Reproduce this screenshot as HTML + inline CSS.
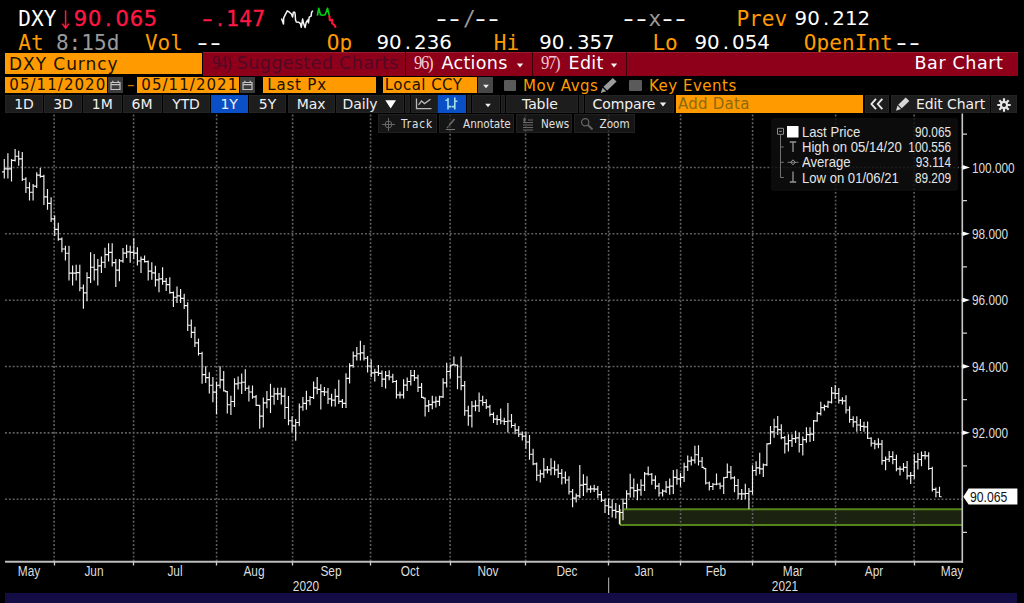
<!DOCTYPE html>
<html lang="en"><head><meta charset="utf-8"><title>DXY Curncy - Bar Chart</title>
<style>
*{box-sizing:border-box;margin:0;padding:0}
html,body{width:1024px;height:603px;background:#000;overflow:hidden}
body{position:relative;font-family:"DejaVu Sans","Liberation Sans",sans-serif;color:#fff}
.a{position:absolute;white-space:pre}
.m{font-family:"DejaVu Sans Mono","Liberation Mono",monospace;font-size:21.1px;line-height:24px;letter-spacing:0.02px}
.n{font-family:"DejaVu Sans","Liberation Sans",sans-serif;font-size:19.8px;line-height:24px}
.c{display:inline-block;text-align:center}
.d{transform:scaleX(1.45)}
.t3{top:51.7px;font-family:"DejaVu Sans","Liberation Sans",sans-serif;font-size:17.5px;line-height:23px;color:#fff;letter-spacing:0.3px}
.nn{font-family:"Liberation Serif",serif;font-size:18.5px;letter-spacing:-1.5px;color:#f4c8cf;margin-right:1.5px;display:inline-block;transform:scaleX(0.9);transform-origin:0 50%}
.tri{width:0;height:0;border-left:4px solid transparent;border-right:4px solid transparent;border-top:5px solid #f0f0f0}
.r4{top:76.7px;height:16.8px;font-size:15px;line-height:17.4px;padding-left:4.3px;letter-spacing:1.05px}
.r4t{top:76.5px;font-family:"DejaVu Sans","Liberation Sans",sans-serif;font-size:15px;line-height:18px;letter-spacing:0.5px}
.btn.t6{top:114.2px;height:19px;text-align:left;font-family:"DejaVu Sans Condensed","DejaVu Sans","Liberation Sans",sans-serif;font-size:11.6px;line-height:18.6px;letter-spacing:0;color:#e0e0e0;background:rgba(30,30,30,0.7);border-color:rgba(40,40,40,0.6)}
.o{color:#ff9a00}
.r{color:#ff1744}
.g{color:#9a9a9a}
.w{color:#fff}
.btn{position:absolute;background:#1d1d1d;border:1px solid #242424;border-radius:0;height:18.4px;top:94.9px;color:#f0f0f0;font-family:"DejaVu Sans","Liberation Sans",sans-serif;font-size:14px;line-height:16.6px;letter-spacing:-0.1px;text-align:center;white-space:pre}
.ob{position:absolute;background:#ff9a00;color:#1a1200;font-family:"DejaVu Sans","Liberation Sans",sans-serif;white-space:pre}
.yl{position:absolute;left:971.5px;font-family:"Liberation Sans","DejaVu Sans",sans-serif;font-size:13.8px;line-height:14px;color:#dcdcdc;transform:scaleX(0.855);transform-origin:0 50%;white-space:pre}
.xl{position:absolute;top:564.7px;font-family:"Liberation Sans","DejaVu Sans",sans-serif;font-size:13.8px;line-height:14px;color:#dcdcdc;white-space:pre;transform:translateX(-50%) scaleX(0.86)}
.lg{position:absolute;font-family:"Liberation Sans","DejaVu Sans",sans-serif;font-size:14.4px;line-height:15px;color:#e6e6e6;white-space:pre;transform:scaleX(0.91);transform-origin:0 50%}
.lv{position:absolute;font-family:"Liberation Sans","DejaVu Sans",sans-serif;font-size:14.4px;line-height:15px;color:#e6e6e6;white-space:pre;right:72.7px;transform:scaleX(0.82);transform-origin:100% 50%}
</style></head>
<body>
<svg id="chart" width="1024" height="603" viewBox="0 0 1024 603" style="position:absolute;left:0;top:0">
<rect x="620" y="509.3" width="342" height="15.7" fill="#1b220f"/>
<path d="M624 509.3H962M620 525H962" stroke="#55841a" stroke-width="2" fill="none"/>
<path d="M620 509V525" stroke="#c9d96a" stroke-width="1.2" fill="none"/>
<path d="M5 167.5H962M5 233.8H962M5 300.2H962M5 366.5H962M5 432.9H962M5 499.2H962M54.1 114.5V561M133.6 114.5V561M216.6 114.5V561M292.6 114.5V561M370.6 114.5V561M450.1 114.5V561M525.6 114.5V561M608.6 114.5V561M680.6 114.5V561M752.6 114.5V561M835.6 114.5V561M914.1 114.5V561" stroke="#606060" stroke-width="1.6" stroke-dasharray="1.9 1.97" fill="none"/>
<path d="M4.3 159.1V178.5M2.1 171.8H4.3M4.3 168.8H6.5M7.9 153.3V178.5M5.7 168.8H7.9M7.9 168.8H10.1M11.5 159.1V181.5M9.3 168.8H11.5M11.5 160.3H13.7M15.1 149.1V161.6M12.9 160.3H15.1M15.1 156.2H17.3M18.7 150.8V165.7M16.5 156.2H18.7M18.7 158.8H20.9M22.3 151.9V181.1M20.1 158.8H22.3M22.3 179.2H24.5M25.9 177.3V193.1M23.7 179.2H25.9M25.9 187.7H28.1M29.5 182.3V200.5M27.3 187.7H29.5M29.5 192.2H31.7M33.1 184.0V200.5M30.9 192.2H33.1M33.1 186.1H35.3M36.7 172.3V188.1M34.5 186.1H36.7M36.7 175.1H38.9M40.3 167.9V177.8M38.1 175.1H40.3M40.3 176.3H42.5M43.9 174.8V205.0M41.7 176.3H43.9M43.9 196.9H46.1M47.5 188.9V209.7M45.3 196.9H47.5M47.5 203.4H49.7M51.1 197.2V222.1M48.9 203.4H51.1M51.1 218.8H53.3M54.7 215.5V236.0M52.5 218.8H54.7M54.7 229.3H56.9M58.3 222.7V240.7M56.1 229.3H58.3M58.3 239.1H60.5M61.9 237.4V252.3M59.7 239.1H61.9M61.9 249.0H64.1M65.4 245.7V260.6M63.2 249.0H65.4M65.4 253.2H67.6M69.0 245.7V280.5M66.8 253.2H69.0M69.0 273.1H71.2M72.6 265.6V285.5M70.4 273.1H72.6M72.6 273.1H74.8M76.2 264.7V280.5M74.0 273.1H76.2M76.2 272.6H78.4M79.8 264.7V291.3M77.6 272.6H79.8M79.8 288.0H82.0M83.4 284.6V308.7M81.2 288.0H83.4M83.4 292.9H85.6M87.0 272.2V301.2M84.8 292.9H87.0M87.0 277.6H89.2M90.6 252.3V283.0M88.4 277.6H90.6M90.6 267.2H92.8M94.2 254.0V280.5M92.0 267.2H94.2M94.2 269.7H96.4M97.8 258.9V285.5M95.6 269.7H97.8M97.8 265.9H100.0M101.4 256.4V273.0M99.2 265.9H101.4M101.4 262.2H103.6M105.0 247.8V268.0M102.8 262.2H105.0M105.0 254.6H107.2M108.6 243.2V261.4M106.4 254.6H108.6M108.6 252.3H110.8M112.2 243.2V266.4M110.0 252.3H112.2M112.2 262.6H114.4M115.8 258.9V287.1M113.6 262.6H115.8M115.8 270.1H118.0M119.4 258.9V281.3M117.2 270.1H119.4M119.4 260.8H121.6M123.0 248.1V262.7M120.8 260.8H123.0M123.0 253.1H125.2M126.6 244.8V258.1M124.4 253.1H126.6M126.6 251.9H128.8M130.2 245.7V262.7M128.0 251.9H130.2M130.2 252.3H132.4M133.8 238.2V258.9M131.6 252.3H133.8M133.8 253.1H136.0M137.4 247.3V265.6M135.2 253.1H137.4M137.4 261.0H139.6M141.0 256.4V273.0M138.8 261.0H141.0M141.0 259.4H143.2M144.6 255.4V262.5M142.4 259.4H144.6M144.6 261.6H146.8M148.2 260.6V280.5M146.0 261.6H148.2M148.2 271.1H150.4M151.8 262.3V279.8M149.6 271.1H151.8M151.8 272.8H154.0M155.4 265.7V286.4M153.2 272.8H155.4M155.4 279.8H157.6M159.0 273.1V292.2M156.8 279.8H159.0M159.0 278.9H161.2M162.6 267.3V284.7M160.4 278.9H162.6M162.6 281.4H164.8M166.2 278.1V291.0M164.0 281.4H166.2M166.2 284.6H168.4M169.8 277.3V293.8M167.6 284.6H169.8M169.8 292.6H172.0M173.4 291.4V307.1M171.2 292.6H173.4M173.4 297.2H175.6M177.0 286.4V303.0M174.8 297.2H177.0M177.0 295.9H179.2M180.6 288.9V303.0M178.4 295.9H180.6M180.6 298.4H182.8M184.2 293.8V309.0M182.0 298.4H184.2M184.2 305.6H186.3M187.7 302.2V331.0M185.5 305.6H187.7M187.7 325.2H189.9M191.3 319.4V338.0M189.1 325.2H191.3M191.3 332.4H193.5M194.9 326.7V347.0M192.7 332.4H194.9M194.9 342.8H197.1M198.5 338.5V355.4M196.3 342.8H198.5M198.5 353.5H200.7M202.1 351.7V383.8M199.9 353.5H202.1M202.1 374.6H204.3M205.7 366.2V383.0M203.5 374.6H205.7M205.7 377.6H207.9M209.3 372.2V393.4M207.1 377.6H209.3M209.3 385.2H211.5M212.9 377.0V402.3M210.7 385.2H212.9M212.9 392.1H215.1M216.5 381.8V414.3M214.3 392.1H216.5M216.5 385.2H218.7M220.1 366.2V388.6M217.9 385.2H220.1M220.1 379.8H222.3M223.7 371.0V391.5M221.5 379.8H223.7M223.7 390.9H225.9M227.3 391.0V413.6M225.1 391.6H227.3M227.3 404.7H229.5M230.9 395.8V415.0M228.7 404.7H230.9M230.9 401.5H233.1M234.5 378.2V407.1M232.3 401.5H234.5M234.5 383.9H236.7M238.1 376.5V389.5M235.9 383.9H238.1M238.1 383.0H240.3M241.7 373.4V393.9M239.5 383.0H241.7M241.7 382.2H243.9M245.3 369.3V391.0M243.1 382.2H245.3M245.3 388.2H247.5M248.9 385.4V401.6M246.7 388.2H248.9M248.9 392.0H251.1M252.5 385.4V398.7M250.3 392.0H252.5M252.5 396.9H254.7M256.1 395.0V405.9M253.9 396.9H256.1M256.1 405.3H258.3M259.7 404.7V428.8M257.5 405.3H259.7M259.7 416.1H261.9M263.3 397.5V427.6M261.1 416.1H263.3M263.3 402.9H265.5M266.9 391.0V408.3M264.7 402.9H266.9M266.9 399.6H269.1M270.5 383.8V413.1M268.3 399.6H270.5M270.5 396.2H272.7M274.1 387.8V404.7M271.9 396.2H274.1M274.1 393.9H276.3M277.7 387.8V399.9M275.5 393.9H277.7M277.7 393.9H279.9M281.3 387.5V404.5M279.1 393.9H281.3M281.3 396.1H283.5M284.9 387.8V419.0M282.7 396.1H284.9M284.9 407.5H287.1M288.5 396.0V425.2M286.3 407.5H288.5M288.5 420.7H290.7M292.1 416.2V432.6M289.9 420.7H292.1M292.1 425.8H294.3M295.7 418.9V440.8M293.5 425.8H295.7M295.7 422.5H297.9M299.3 403.4V426.2M297.1 422.5H299.3M299.3 407.0H301.5M302.9 397.0V410.7M300.7 407.0H302.9M302.9 403.4H305.1M306.4 390.7V409.8M304.2 403.4H306.4M306.4 400.7H308.6M310.0 396.1V405.3M307.8 400.7H310.0M310.0 397.5H312.2M313.6 381.5V398.9M311.4 397.5H313.6M313.6 387.9H315.8M317.2 377.0V394.3M315.0 387.9H317.2M317.2 389.3H319.4M320.8 384.3V409.5M318.6 389.3H320.8M320.8 391.6H323.0M324.4 387.0V396.1M322.2 391.6H324.4M324.4 392.0H326.6M328.0 387.9V404.0M325.8 392.0H328.0M328.0 398.9H330.2M331.6 393.8V406.5M329.4 398.9H331.6M331.6 400.1H333.8M335.2 388.8V406.5M333.0 400.1H335.2M335.2 396.4H337.4M338.8 379.7V404.0M336.6 396.4H338.8M338.8 401.4H341.0M342.4 398.9V408.0M340.2 401.4H342.4M342.4 403.4H344.6M346.0 373.3V408.0M343.8 403.4H346.0M346.0 378.4H348.2M349.6 363.3V383.4M347.4 378.4H349.6M349.6 365.6H351.8M353.2 351.4V367.8M351.0 365.6H353.2M353.2 355.9H355.4M356.8 346.9V360.5M354.6 355.9H356.8M356.8 353.7H359.0M360.4 340.8V360.5M358.2 353.7H360.4M360.4 352.8H362.6M364.0 345.0V360.5M361.8 352.8H364.0M364.0 358.2H366.2M367.6 356.0V372.4M365.4 358.2H367.6M367.6 366.0H369.8M371.2 359.6V377.0M369.0 366.0H371.2M371.2 372.9H373.4M374.8 368.8V381.5M372.6 372.9H374.8M374.8 372.4H377.0M378.4 365.1V376.0M376.2 372.4H378.4M378.4 373.3H380.6M382.0 370.6V387.0M379.8 373.3H382.0M382.0 379.1H384.2M385.6 371.1V388.6M383.4 379.1H385.6M385.6 375.6H387.8M389.2 370.3V380.2M387.0 375.6H389.2M389.2 377.0H391.4M392.8 373.8V382.9M390.6 377.0H392.8M392.8 381.5H395.0M396.4 380.1V398.4M394.2 381.5H396.4M396.4 394.9H398.6M400.0 391.5V398.4M397.8 394.9H400.0M400.0 394.9H402.2M403.6 379.2V398.4M401.4 394.9H403.6M403.6 385.1H405.8M407.2 377.4V391.1M405.0 385.1H407.2M407.2 381.5H409.4M410.8 370.1V385.6M408.6 381.5H410.8M410.8 375.6H413.0M414.4 370.1V381.0M412.2 375.6H414.4M414.4 377.9H416.6M418.0 374.7V392.0M415.8 377.9H418.0M418.0 387.4H420.2M421.6 382.9V398.0M419.4 387.4H421.6M421.6 397.4H423.8M425.1 397.5V416.6M422.9 398.1H425.1M425.1 405.9H427.3M428.7 399.9V412.0M426.5 405.9H428.7M428.7 404.6H430.9M432.3 395.7V409.3M430.1 404.6H432.3M432.3 402.1H434.5M435.9 396.6V407.5M433.7 402.1H435.9M435.9 401.3H438.1M439.5 395.7V406.0M437.3 401.3H439.5M439.5 396.9H441.7M443.1 378.3V398.0M440.9 396.9H443.1M443.1 382.9H445.3M446.7 362.8V387.4M444.5 382.9H446.7M446.7 371.5H448.9M450.3 364.6V378.3M448.1 371.5H450.3M450.3 365.2H452.5M453.9 356.4V365.5M451.7 364.9H453.9M453.9 364.9H456.1M457.5 364.6V389.3M455.3 365.2H457.5M457.5 377.0H459.7M461.1 356.4V390.2M458.9 377.0H461.1M461.1 385.6H463.3M464.7 381.0V415.7M462.5 385.6H464.7M464.7 410.7H466.9M468.3 405.7V425.8M466.1 410.7H468.3M468.3 415.8H470.5M471.9 401.1V427.6M469.7 415.8H471.9M471.9 406.1H474.1M475.5 400.2V411.2M473.3 406.1H475.5M475.5 405.7H477.7M479.1 392.6V412.1M476.9 405.7H479.1M479.1 400.7H481.3M482.7 395.7V405.7M480.5 400.7H482.7M482.7 402.5H484.9M486.3 399.3V409.0M484.1 402.5H486.3M486.3 406.9H488.5M489.9 404.8V416.4M487.7 406.9H489.9M489.9 414.3H492.1M493.5 412.2V423.1M491.3 414.3H493.5M493.5 419.1H495.7M497.1 415.0V425.1M494.9 419.1H497.1M497.1 419.6H499.3M500.7 408.6V424.2M498.5 419.6H500.7M500.7 421.0H502.9M504.3 417.8V425.1M502.1 421.0H504.3M504.3 421.5H506.5M507.9 403.0V432.4M505.7 421.5H507.9M507.9 421.0H510.1M511.5 414.1V427.8M509.3 421.0H511.5M511.5 425.5H513.7M515.1 423.2V434.2M512.9 425.5H515.1M515.1 430.1H517.3M518.7 426.0V437.0M516.5 430.1H518.7M518.7 434.2H520.9M522.3 431.5V440.6M520.1 434.2H522.3M522.3 436.1H524.5M525.9 431.5V448.8M523.7 436.1H525.9M525.9 442.0H528.1M529.5 435.1V459.7M527.3 442.0H529.5M529.5 454.2H531.7M533.1 448.8V465.2M530.9 454.2H533.1M533.1 463.9H535.3M536.7 462.5V480.7M534.5 463.9H536.7M536.7 475.2H538.9M540.3 469.8V482.6M538.1 475.2H540.3M540.3 473.9H542.5M543.8 457.9V478.0M541.6 473.9H543.8M543.8 469.8H546.0M547.4 466.1V473.4M545.2 469.8H547.4M547.4 469.8H549.6M551.0 458.3V475.3M548.8 469.8H551.0M551.0 468.0H553.2M554.6 460.7V475.3M552.4 468.0H554.6M554.6 469.8H556.8M558.2 464.3V478.0M556.0 469.8H558.2M558.2 473.4H560.4M561.8 468.9V484.4M559.6 473.4H561.8M561.8 477.7H564.0M565.4 471.6V483.8M563.2 477.7H565.4M565.4 480.0H567.6M569.0 476.2V494.4M566.8 480.0H569.0M569.0 491.7H571.2M572.6 489.0V507.2M570.4 491.7H572.6M572.6 498.1H574.8M576.2 493.5V502.6M574.0 498.1H576.2M576.2 495.8H578.4M579.8 464.9V498.1M577.6 495.8H579.8M579.8 485.1H582.0M583.4 474.3V495.9M581.2 485.1H583.4M583.4 484.4H585.6M587.0 476.2V492.6M584.8 484.4H587.0M587.0 489.1H589.2M590.6 485.5V492.8M588.4 489.1H590.6M590.6 488.8H592.8M594.2 484.8V492.1M592.0 488.8H594.2M594.2 489.1H596.4M597.8 486.0V498.2M595.6 489.1H597.8M597.8 494.6H600.0M601.4 491.1V502.1M599.2 494.6H601.4M601.4 500.2H603.6M605.0 498.4V513.0M602.8 500.2H605.0M605.0 505.7H607.2M608.6 498.4V514.9M606.4 505.7H608.6M608.6 507.1H610.8M612.2 499.3V517.6M610.0 507.1H612.2M612.2 510.3H614.4M615.8 503.0V518.5M613.6 510.3H615.8M615.8 511.6H618.0M619.4 504.8V524.0M617.2 511.6H619.4M619.4 512.5H621.6M623.0 498.4V520.3M620.8 512.5H623.0M623.0 503.4H625.2M626.6 490.2V508.5M624.4 503.4H626.6M626.6 493.9H628.8M630.2 473.8V497.5M628.0 493.9H630.2M630.2 487.9H632.4M633.8 478.4V497.5M631.6 487.9H633.8M633.8 490.6H636.0M637.4 483.8V500.3M635.2 490.6H637.4M637.4 489.8H639.6M641.0 479.3V495.7M638.8 489.8H641.0M641.0 485.2H643.2M644.6 472.0V491.1M642.4 485.2H644.6M644.6 473.8H646.8M648.2 466.5V475.6M646.0 473.8H648.2M648.2 474.2H650.4M651.8 472.9V484.7M649.6 474.2H651.8M651.8 480.1H654.0M655.4 475.6V489.3M653.2 480.1H655.4M655.4 486.1H657.6M659.0 482.9V496.6M656.8 486.1H659.0M659.0 493.0H661.2M662.6 489.3V496.6M660.4 493.0H662.6M662.6 491.1H664.8M666.1 481.1V493.0M663.9 491.1H666.1M666.1 487.1H668.3M669.7 478.4V494.8M667.5 487.1H669.7M669.7 486.1H671.9M673.3 470.1V493.9M671.1 486.1H673.3M673.3 477.4H675.5M676.9 469.2V484.7M674.7 477.4H676.9M676.9 478.8H679.1M680.5 472.9V486.6M678.3 478.8H680.5M680.5 477.4H682.7M684.1 462.8V482.0M681.9 477.4H684.1M684.1 466.9H686.3M687.7 455.5V471.0M685.5 466.9H687.7M687.7 461.1H689.9M691.3 456.5V465.6M689.1 461.1H691.3M691.3 460.1H693.5M694.9 445.8V463.6M692.7 460.1H694.9M694.9 454.7H697.1M698.5 445.3V465.4M696.3 454.7H698.5M698.5 461.2H700.7M702.1 457.0V468.0M699.9 461.2H702.1M702.1 467.4H704.3M705.7 468.0V484.4M703.5 468.6H705.7M705.7 483.0H707.9M709.3 481.6V490.4M707.1 483.0H709.3M709.3 486.5H711.5M712.9 483.1V489.9M710.7 486.5H712.9M712.9 484.2H715.1M716.5 473.4V485.3M714.3 484.2H716.5M716.5 484.0H718.7M720.1 482.6V489.3M717.9 484.0H720.1M720.1 486.0H722.3M723.7 477.1V494.1M721.5 486.0H723.7M723.7 477.7H725.9M727.3 463.4V478.0M725.1 477.4H727.3M727.3 472.1H729.5M730.9 466.1V479.5M728.7 472.1H730.9M730.9 477.9H733.1M734.5 476.2V492.2M732.3 477.9H734.5M734.5 485.5H736.7M738.1 478.9V499.0M735.9 485.5H738.1M738.1 493.9H740.3M741.7 488.9V499.9M739.5 493.9H741.7M741.7 493.9H743.9M745.3 483.8V499.0M743.1 493.9H745.3M745.3 493.5H747.5M748.9 488.0V509.0M746.7 493.5H748.9M748.9 491.2H751.1M752.5 465.2V494.4M750.3 491.2H752.5M752.5 470.5H754.7M756.1 461.2V475.8M753.9 470.5H756.1M756.1 467.8H758.3M759.7 452.8V474.3M757.5 467.8H759.7M759.7 468.9H761.9M763.3 463.4V477.1M761.1 468.9H763.3M763.3 464.8H765.5M766.9 443.3V466.1M764.7 464.8H766.9M766.9 443.9H769.1M770.5 426.0V444.2M768.3 443.6H770.5M770.5 431.9H772.7M774.1 418.7V437.8M771.9 431.9H774.1M774.1 426.9H776.3M777.7 415.9V435.1M775.5 426.9H777.7M777.7 429.6H779.9M781.3 424.2V439.3M779.1 429.6H781.3M781.3 437.6H783.5M784.8 436.0V453.4M782.6 437.6H784.8M784.8 443.8H787.0M788.4 434.2V451.5M786.2 443.8H788.4M788.4 440.6H790.6M792.0 434.2V447.0M789.8 440.6H792.0M792.0 438.6H794.2M795.6 430.7V443.0M793.4 438.6H795.6M795.6 437.8H797.8M799.2 432.5V452.6M797.0 437.8H799.2M799.2 444.5H801.4M802.8 436.4V455.6M800.6 444.5H802.8M802.8 439.6H805.0M806.4 427.3V442.8M804.2 439.6H806.4M806.4 434.6H808.6M810.0 427.3V441.9M807.8 434.6H810.0M810.0 434.1H812.2M813.6 420.0V441.0M811.4 434.1H813.6M813.6 420.9H815.8M817.2 411.8V421.8M815.0 420.9H817.2M817.2 413.6H819.4M820.8 401.7V415.4M818.6 413.6H820.8M820.8 407.6H823.0M824.4 404.5V410.8M822.2 407.6H824.4M824.4 406.3H826.6M828.0 400.8V408.1M825.8 406.3H828.0M828.0 402.1H830.2M831.6 387.1V403.5M829.4 402.1H831.6M831.6 393.1H833.8M835.2 384.9V399.0M833.0 393.1H835.2M835.2 393.5H837.4M838.8 388.0V403.5M836.6 393.5H838.8M838.8 400.4H841.0M842.4 397.2V404.5M840.2 400.4H842.4M842.4 400.9H844.6M846.0 395.3V413.6M843.8 400.9H846.0M846.0 410.0H848.2M849.6 406.3V422.7M847.4 410.0H849.6M849.6 419.5H851.8M853.2 416.3V427.3M851.0 419.5H853.2M853.2 421.8H855.4M856.8 416.3V431.8M854.6 421.8H856.8M856.8 425.0H859.0M860.4 419.1V430.9M858.2 425.0H860.4M860.4 426.4H862.6M864.0 421.8V431.8M861.8 426.4H864.0M864.0 426.8H866.2M867.6 421.4V439.1M865.4 426.8H867.6M867.6 438.2H869.8M871.2 437.3V446.4M869.0 438.2H871.2M871.2 443.2H873.4M874.8 440.0V449.2M872.6 443.2H874.8M874.8 444.1H877.0M878.4 438.2V448.3M876.2 444.1H878.4M878.4 444.1H880.6M882.0 440.0V464.7M879.8 444.1H882.0M882.0 460.6H884.2M885.6 456.5V470.2M883.4 460.6H885.6M885.6 459.2H887.8M889.2 451.0V462.0M887.0 459.2H889.2M889.2 456.6H891.4M892.8 451.3V464.3M890.6 456.6H892.8M892.8 459.5H895.0M896.4 454.7V471.3M894.2 459.5H896.4M896.4 468.8H898.6M900.0 466.3V475.5M897.8 468.8H900.0M900.0 469.1H902.2M903.5 462.9V471.8M901.3 469.1H903.5M903.5 467.4H905.8M907.1 460.9V479.4M904.9 467.4H907.1M907.1 475.8H909.3M910.7 472.1V484.1M908.5 475.8H910.7M910.7 475.5H912.9M914.3 454.2V478.8M912.1 475.5H914.3M914.3 461.9H916.5M917.9 452.9V469.5M915.7 461.9H917.9M917.9 459.5H920.1M921.5 451.6V466.2M919.3 459.5H921.5M921.5 455.6H923.7M925.1 450.9V459.5M922.9 455.6H925.1M925.1 455.9H927.3M928.7 452.2V470.1M926.5 455.9H928.7M928.7 468.5H930.9M932.3 466.8V491.4M930.1 468.5H932.3M932.3 489.4H934.5M935.9 487.4V497.3M933.7 489.4H935.9M935.9 492.2H938.1M939.5 486.7V497.1M937.3 492.2H939.5M939.5 496.7H941.7" stroke="#f2f2f2" stroke-width="1.15" fill="none"/>
<path d="M5 561.8H963" stroke="#bdbdbd" stroke-width="2" fill="none"/>
<path d="M962.3 113.5V562.8" stroke="#c8c8c8" stroke-width="1.6" fill="none"/>
<path d="M54.5 562V565.5M133.5 562V565.5M216.5 562V565.5M292.5 562V565.5M370.5 562V565.5M450.5 562V565.5M525.5 562V565.5M608.5 562V565.5M680.5 562V565.5M752.5 562V565.5M835.5 562V565.5M914.5 562V565.5" stroke="#d0d0d0" stroke-width="1.3" fill="none"/>
<path d="M608.6 577.5V594" stroke="#9a9a9a" stroke-width="1.2" fill="none"/>
<path d="M963 134.2H967M963 200.6H967M963 266.9H967M963 333.2H967M963 399.6H967M963 465.9H967M963 532.3H967" stroke="#d0d0d0" stroke-width="1.2" fill="none"/>
<path d="M962.5 165.1L970 167.4L962.5 169.7Z" fill="#ffffff"/>
<path d="M962.5 231.4L970 233.7L962.5 236.0Z" fill="#ffffff"/>
<path d="M962.5 297.8L970 300.1L962.5 302.4Z" fill="#ffffff"/>
<path d="M962.5 364.1L970 366.4L962.5 368.7Z" fill="#ffffff"/>
<path d="M962.5 430.5L970 432.8L962.5 435.1Z" fill="#ffffff"/>
</svg>
<div class="a m w" style="left:18.3px;top:7.3px">DXY</div>
<svg class="a" style="left:60px;top:9px" width="12" height="21" viewBox="0 0 12 21"><path d="M5.6 1.3V18.8M2.3 14.6L5.6 19.3L8.9 14.6" stroke="#ff1744" stroke-width="1.5" fill="none"/></svg>
<div class="a n r" aria-label="90.065" style="left:73.8px;top:7.3px;font-size:21px;letter-spacing:0.8px;-webkit-text-stroke:0.35px #ff1744">90<span class="c" style="width:13.36px">.</span>065</div>
<div class="a n r" aria-label="-.147" style="left:201.2px;top:7.3px;font-size:20.4px;-webkit-text-stroke:0.3px #ff1744"><span class="c d" style="width:12.5px">-</span><span class="c" style="width:12.5px">.</span>147</div>
<div class="a m w" style="left:434.9px;top:7.3px"><span class="c d" style="width:12.72px">-</span><span class="c d" style="width:12.72px">-</span></div>
<div class="a m g" style="left:462.9px;top:7.3px">/</div>
<div class="a m w" style="left:474.4px;top:7.3px"><span class="c d" style="width:12.72px">-</span><span class="c d" style="width:12.72px">-</span></div>
<div class="a m w" style="left:621.9px;top:7.3px"><span class="c d" style="width:12.72px">-</span><span class="c d" style="width:12.72px">-</span></div>
<div class="a m g" style="left:648.6px;top:7.3px">x</div>
<div class="a m w" style="left:661.4px;top:7.3px"><span class="c d" style="width:12.72px">-</span><span class="c d" style="width:12.72px">-</span></div>
<div class="a m o" style="left:736.4px;top:7.3px">Prev</div>
<div class="a n w" aria-label="90.212" style="left:794.6px;top:7.3px">90<span class="c" style="width:12.55px">.</span>212</div>
<svg class="a" style="left:270px;top:0px" width="80" height="34" viewBox="270 0 80 34"><path d="M281.5 18.5L282.2 20.5L283.5 23.9L283.7 17.8L285.3 14.7L287.3 10.8L289.4 12.2L291.4 14L292.6 17.1L293.3 12.3L294.7 12.2L295.2 14.7L295.5 19.8L296.3 22L298.9 22.3L300.4 23.6L301.3 27.2L302.6 19L303.6 23.6L305.1 27.5L306.1 22.6L307.7 20L308.5 22.9L309.2 17.2L311.1 16.1L311.6 12.2L312.9 10.6" stroke="#f4f4f4" stroke-width="1.5" fill="none" stroke-linejoin="round"/><path d="M317.4 15.6L318.7 8.2L320.5 14.7L322.8 15.2L325.2 14.7L327.5 8.2L329.3 15.6" stroke="#00d414" stroke-width="1.6" fill="none" stroke-linejoin="round"/><path d="M329.3 15.4L329.8 20.3L332.3 19.9L332.1 23.2L334.5 25.3L335.8 27.7" stroke="#ff1438" stroke-width="2.1" fill="none" stroke-linejoin="round"/></svg>
<div class="a m o" style="left:18.3px;top:30.6px">At</div>
<div class="a m g" style="left:55.9px;top:30.6px">8:15d</div>
<div class="a m o" style="left:144.9px;top:30.6px">Vol</div>
<div class="a m w" style="left:195.8px;top:30.6px"><span class="c d" style="width:12.72px">-</span><span class="c d" style="width:12.72px">-</span></div>
<div class="a m o" style="left:326.8px;top:30.6px">Op</div>
<div class="a n w" aria-label="90.236" style="left:376.4px;top:30.6px">90<span class="c" style="width:12.55px">.</span>236</div>
<div class="a m o" style="left:493.7px;top:30.6px">Hi</div>
<div class="a n w" aria-label="90.357" style="left:539.2px;top:30.6px">90<span class="c" style="width:12.55px">.</span>357</div>
<div class="a m o" style="left:652.4px;top:30.6px">Lo</div>
<div class="a n w" aria-label="90.054" style="left:694.4px;top:30.6px">90<span class="c" style="width:12.55px">.</span>054</div>
<div class="a m o" style="left:803.8px;top:30.6px">OpenInt</div>
<div class="a m w" style="left:895.4px;top:30.6px"><span class="c d" style="width:12.72px">-</span><span class="c d" style="width:12.72px">-</span></div>
<div class="a" style="left:203px;top:52px;width:814.5px;height:23.7px;background:#8e0019;border-top:1px solid #a01a30"></div>
<div class="a" style="left:405px;top:52px;width:1.3px;height:23.7px;background:#3a000a"></div>
<div class="a" style="left:532px;top:52px;width:1.3px;height:23.7px;background:#3a000a"></div>
<div class="a" style="left:626px;top:52px;width:1.3px;height:23.7px;background:#3a000a"></div>
<div class="ob" style="left:5px;top:52.9px;width:197px;height:21.3px;font-size:17px;line-height:23.4px;padding-left:4px;letter-spacing:0.95px">DXY Curncy</div>
<div class="a t3" style="left:212px;color:#520826;letter-spacing:0.37px"><span class="nn" style="color:#520826;margin-right:-1.3px">94)</span> Suggested Charts</div>
<div class="a t3" style="left:414px"><span class="nn">96)</span> Actions</div>
<div class="a t3" style="left:541px"><span class="nn">97)</span> Edit</div>
<div class="a tri" style="left:515.7px;top:63px;transform:scale(0.8)"></div>
<div class="a tri" style="left:610px;top:63px;transform:scale(0.8)"></div>
<div class="a t3" style="left:914.5px;letter-spacing:0.6px">Bar Chart</div>
<div class="ob r4" style="left:5px;width:102px">05/11/2020</div>
<div class="a" style="left:108px;top:76.7px;width:15px;height:16.8px;background:#3c3c3c"></div><svg class="a" style="left:110px;top:80px" width="11" height="11" viewBox="0 0 11 11"><path d="M1 2.5H10V9.5H1ZM1 4.6H10" stroke="#c4c4c4" stroke-width="1.2" fill="none"/><path d="M2.8 0.8V3M8.2 0.8V3" stroke="#c4c4c4" stroke-width="1.3"/></svg>
<div class="a" style="left:127.5px;top:76px;font-size:15px;line-height:18px;color:#c47800;transform:scaleX(1.5)">-</div>
<div class="ob r4" style="left:137px;width:102px">05/11/2021</div>
<div class="a" style="left:240px;top:76.7px;width:15px;height:16.8px;background:#3c3c3c"></div><svg class="a" style="left:242px;top:80px" width="11" height="11" viewBox="0 0 11 11"><path d="M1 2.5H10V9.5H1ZM1 4.6H10" stroke="#c4c4c4" stroke-width="1.2" fill="none"/><path d="M2.8 0.8V3M8.2 0.8V3" stroke="#c4c4c4" stroke-width="1.3"/></svg>
<div class="ob r4" style="left:263px;width:112.5px;letter-spacing:0.8px">Last Px</div>
<div class="ob r4" style="left:383px;width:94px;padding-left:1.8px;letter-spacing:0.45px">Local CCY</div>
<div class="a" style="left:478px;top:76.7px;width:15px;height:16.8px;background:#474747"></div>
<div class="a tri" style="left:481.7px;top:83.5px;transform:scale(0.72)"></div>
<div class="a" style="left:503.5px;top:80px;width:12.5px;height:11px;background:#5a5a5a;border-radius:1px"></div>
<div class="a o r4t" style="left:523px">Mov Avgs</div>
<svg class="a" style="left:599px;top:76px" width="20" height="18" viewBox="0 0 20 18"><path d="M13.8 2L17.6 5.6L8.2 14.4L4.4 10.8Z" fill="#9b9b9b"/><path d="M3.6 11.8L7.2 15.2L1.6 17Z" fill="#9b9b9b"/></svg>
<div class="a" style="left:629px;top:80px;width:12.5px;height:11px;background:#5a5a5a;border-radius:1px"></div>
<div class="a o r4t" style="left:649px">Key Events</div>
<div class="btn" style="left:5px;width:38px;">1D</div>
<div class="btn" style="left:44px;width:38px;">3D</div>
<div class="btn" style="left:83px;width:38.5px;">1M</div>
<div class="btn" style="left:122.5px;width:39px;">6M</div>
<div class="btn" style="left:162.5px;width:47px;">YTD</div>
<div class="btn" style="left:210.7px;width:37px;background:#0a4fc6;border-color:#0a4fc6">1Y</div>
<div class="btn" style="left:249px;width:37px;">5Y</div>
<div class="btn" style="left:287.5px;width:47px;">Max</div>
<div class="btn" style="left:336px;width:67.5px;text-align:left;padding-left:5.5px">Daily</div>
<svg class="a" style="left:385px;top:100px" width="12" height="9" viewBox="0 0 12 9"><path d="M0.3 0.3H11L5.65 8.6Z" fill="#fff"/></svg>
<div class="btn" style="left:404.5px;width:5px;"></div>
<div class="btn" style="left:410.5px;width:27px;"></div>
<svg class="a" style="left:415px;top:98px" width="18" height="12" viewBox="0 0 18 12"><path d="M1.5 0.5V10.7H16.5" stroke="#b8b8b8" stroke-width="1.3" fill="none"/><path d="M3.5 6.8L6.5 3L9.5 5.6L15.5 1.2" stroke="#b8b8b8" stroke-width="1.3" fill="none"/></svg>
<div class="btn" style="left:438px;width:27.5px;background:#0a4fc6;border-color:#0a4fc6"></div>
<svg class="a" style="left:443px;top:97px" width="18" height="14" viewBox="0 0 18 14"><path d="M5 1V12.6M11.8 0.4V12.6M2.4 3.3H5M5 9.6H8M8.6 9.6H11.8M11.8 4.3H14.4" stroke="#a4dfe6" stroke-width="1.6" fill="none"/></svg>
<div class="btn" style="left:467px;width:4px;"></div>
<div class="btn" style="left:472px;width:27.5px;"></div>
<div class="a tri" style="left:484px;top:102.6px;transform:scale(0.7)"></div>
<div class="btn" style="left:500.5px;width:4px;"></div>
<div class="btn" style="left:505.5px;width:72px;text-align:left;padding-left:15.5px">Table</div>
<div class="btn" style="left:578.5px;width:5px;"></div>
<div class="btn" style="left:584.5px;width:89.5px;text-align:left;padding-left:7px">Compare</div>
<div class="a tri" style="left:659px;top:102px;transform:scale(0.8)"></div>
<div class="ob" style="left:676px;top:95.3px;width:186.5px;height:17.5px;font-size:15px;line-height:19.5px;padding-left:2px;color:#8c6a10;letter-spacing:0.25px;overflow:hidden">Add Data</div>
<div class="btn" style="left:864.5px;width:24.5px;"></div>
<svg class="a" style="left:870px;top:98px" width="14" height="12" viewBox="0 0 14 12"><path d="M6 0.8L1.5 6L6 11.2M12.3 0.8L7.8 6L12.3 11.2" stroke="#e8e8e8" stroke-width="1.9" fill="none"/></svg>
<div class="btn" style="left:890.5px;width:99.5px;text-align:left;padding-left:24.5px">Edit Chart</div>
<svg class="a" style="left:895px;top:96px" width="16" height="16" viewBox="0 0 16 16"><path d="M10.7 1.6L14.3 5L6.8 12.2L3.2 8.8Z" fill="#d8d8d8"/><path d="M2.5 9.6L6 13L1 14.8Z" fill="#d8d8d8"/></svg>
<div class="btn" style="left:991px;width:26px;"></div>
<svg class="a" style="left:997px;top:97.5px" width="14" height="14" viewBox="0 0 14 14"><g stroke="#e6e6e6" stroke-width="2.2"><path d="M7 0.3V13.7M0.3 7H13.7M2.3 2.3L11.7 11.7M11.7 2.3L2.3 11.7"/></g><circle cx="7" cy="7" r="4.1" fill="#e6e6e6"/><circle cx="7" cy="7" r="2" fill="#1f1f1f"/></svg>
<div class="btn t6" style="left:377.5px;width:59.5px;padding-left:22.5px"><span style="letter-spacing:1px">Track</span></div>
<div class="btn t6" style="left:438.5px;width:75.5px;padding-left:23.5px">Annotate</div>
<div class="btn t6" style="left:516px;width:55.5px;padding-left:24px">News</div>
<div class="btn t6" style="left:573.5px;width:61px;padding-left:25px">Zoom</div>
<svg class="a" style="left:382px;top:117.5px" width="13" height="13" viewBox="0 0 13 13"><circle cx="6.5" cy="6.5" r="3.4" stroke="#666" stroke-width="1" fill="none"/><path d="M6.5 0V13M0 6.5H13" stroke="#666" stroke-width="1"/></svg>
<svg class="a" style="left:444px;top:117px" width="14" height="14" viewBox="0 0 14 14"><path d="M10.5 2L5 8.5" stroke="#666" stroke-width="1.8"/><path d="M4.6 9L3 11.2" stroke="#666" stroke-width="1.2"/><path d="M2 12.5H11" stroke="#777" stroke-width="1"/></svg>
<svg class="a" style="left:522px;top:117px" width="12" height="14" viewBox="0 0 12 14"><path d="M1 3H4M1 5.5H11M1 8H11M1 10.5H11M1 13H11M6 3H11" stroke="#666" stroke-width="1"/><path d="M2.5 0.5V5" stroke="#666" stroke-width="1.5"/></svg>
<svg class="a" style="left:580px;top:117px" width="14" height="14" viewBox="0 0 14 14"><circle cx="5.2" cy="5.2" r="3.6" stroke="#666" stroke-width="1.2" fill="none"/><path d="M8 8L12.5 12.5" stroke="#666" stroke-width="1.8"/></svg>
<div class="a" style="left:771px;top:117.5px;width:186.5px;height:73px;background:rgba(15,15,15,0.82);border-radius:3px"></div>
<svg class="a" style="left:774px;top:122px" width="28" height="64" viewBox="0 0 28 64"><path d="M3.5 6.3H9.5V12.3H3.5ZM5 9.3H8" stroke="#8c8c8c" stroke-width="1" fill="none"/><path d="M6.5 12.3V55.5H9.8M6.5 25H9.8M6.5 40.3H9.8" stroke="#707070" stroke-width="1" fill="none"/><rect x="13" y="4" width="11.5" height="11.5" fill="#fff"/><path d="M15.8 20H22.2M19 20V30" stroke="#959595" stroke-width="1.3" fill="none"/><path d="M13.5 40.3H24.5" stroke="#777" stroke-width="1"/><path d="M19 37.8L21.3 40.3L19 42.8L16.7 40.3Z" fill="none" stroke="#999" stroke-width="1"/><path d="M15.8 60H22.2M19 49.5V60" stroke="#959595" stroke-width="1.3" fill="none"/></svg>
<div class="lg" style="left:802px;top:125.0px">Last Price</div>
<div class="lv" style="top:125.0px">90.065</div>
<div class="lg" style="left:802px;top:140.2px">High on 05/14/20</div>
<div class="lv" style="top:140.2px">100.556</div>
<div class="lg" style="left:802px;top:155.4px">Average</div>
<div class="lv" style="top:155.4px">93.114</div>
<div class="lg" style="left:802px;top:170.6px">Low on 01/06/21</div>
<div class="lv" style="top:170.6px">89.209</div>
<div class="yl" style="top:161.5px">100.000</div>
<div class="yl" style="top:227.8px">98.000</div>
<div class="yl" style="top:294.2px">96.000</div>
<div class="yl" style="top:360.5px">94.000</div>
<div class="yl" style="top:426.9px">92.000</div>
<svg class="a" style="left:962px;top:487px" width="58" height="20" viewBox="0 0 58 20"><path d="M1.3 9.7L6.6 1.4H55.4V17.6H6.6Z" fill="#fff"/></svg>
<div class="yl" style="left:970px;top:490.3px;color:#111;font-size:14.2px;transform:scaleX(0.86)">90.065</div>
<div class="xl" style="left:29px">May</div>
<div class="xl" style="left:94px">Jun</div>
<div class="xl" style="left:175px">Jul</div>
<div class="xl" style="left:253.5px">Aug</div>
<div class="xl" style="left:331px">Sep</div>
<div class="xl" style="left:410px">Oct</div>
<div class="xl" style="left:487.5px">Nov</div>
<div class="xl" style="left:567px">Dec</div>
<div class="xl" style="left:644px">Jan</div>
<div class="xl" style="left:715.5px">Feb</div>
<div class="xl" style="left:793px">Mar</div>
<div class="xl" style="left:874px">Apr</div>
<div class="xl" style="left:951.5px">May</div>
<div class="xl" style="left:306px;top:580.2px">2020</div>
<div class="xl" style="left:785px;top:580.2px">2021</div>
<div class="a" style="left:5px;top:593.3px;width:1012.4px;height:10px;background:#120d44"></div>
</body></html>
